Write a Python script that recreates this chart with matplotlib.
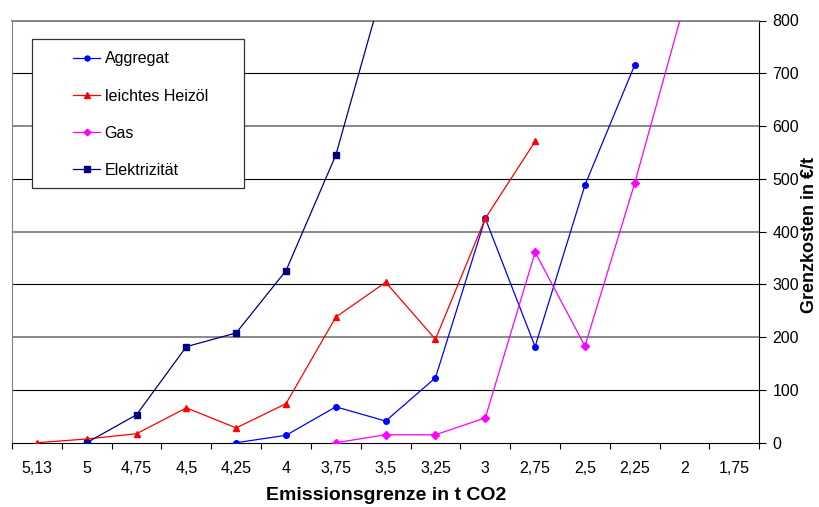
import numpy as np
import matplotlib
matplotlib.use("Agg")
import matplotlib.pyplot as plt
from matplotlib.patches import Rectangle

plt.rcParams['font.family'] = ['Liberation Sans', 'DejaVu Sans']

categories = ["5,13", "5", "4,75", "4,5", "4,25", "4", "3,75", "3,5",
              "3,25", "3", "2,75", "2,5", "2,25", "2", "1,75"]
nan = np.nan
aggregat = [nan, nan, nan, nan, 0, 14, 68, 41, 123, 425, 182, 488, 716, nan, nan]
heizoel = [0, 7, 17, 66, 28, 74, 238, 304, 196, 425, 571, nan, nan, nan, nan]
gas = [nan, nan, nan, nan, nan, nan, 0, 15, 15, 47, 361, 183, 492, 832, nan]
elektrizitaet = [nan, 0, 53, 182, 208, 326, 545, 880, nan, nan, nan, nan, nan, nan, nan]
y_ticks = [0, 100, 200, 300, 400, 500, 600, 700, 800]

W, H = 819, 507
fig = plt.figure(figsize=(W / 100, H / 100), dpi=100)
ax = fig.add_axes([12 / W, 1 - 442.7 / H, (759.3 - 12) / W, (442.7 - 20.5) / H])

x = np.arange(len(categories))

# horizontal gridlines, alternating grey / black
for v in y_ticks[1:]:
    if v % 200 == 0:
        ax.axhline(v, color="#808080", lw=1.3, zorder=1)
    else:
        ax.axhline(v, color="black", lw=0.8, zorder=1)

series = [
    ("Aggregat", aggregat, "#0000FF", "o", 4.0),
    ("leichtes Heizöl", heizoel, "#FF0000", "^", 5.0),
    ("Gas", gas, "#FF00FF", "D", 3.8),
    ("Elektrizität", elektrizitaet, "#000080", "s", 5.0),
]
handles = []
for name, vals, col, mk, ms in series:
    ln, = ax.plot(x, vals, color=col, lw=0.9, marker=mk, markersize=ms,
                  markeredgecolor=col, markerfacecolor=col, label=name, zorder=3)
    handles.append(ln)

ax.set_xlim(-0.5, len(categories) - 0.5)
ax.set_ylim(0, 800)

ax.set_xticks(x)
ax.set_xticklabels(categories, fontsize=11.5)
ax.set_xticks(np.arange(len(categories) + 1) - 0.5, minor=True)
ax.tick_params(axis="x", which="major", length=0, pad=13)
ax.tick_params(axis="x", which="minor", length=4, width=0.8, direction="out", color="black")

ax.yaxis.tick_right()
ax.set_yticks(y_ticks)
ax.set_yticklabels([str(v) for v in y_ticks], fontsize=11.5)
ax.tick_params(axis="y", length=5, width=0.8, direction="out", pad=4.5, color="black")

ax.spines["left"].set_color("#808080")
ax.spines["top"].set_color("#808080")
ax.spines["top"].set_linewidth(1.3)
ax.spines["right"].set_color("black")
ax.spines["bottom"].set_color("black")
for s in ax.spines.values():
    s.set_zorder(2)

fig.text(386 / W, 1 - 495 / H, "Emissionsgrenze in t CO2", fontsize=14,
         fontweight="bold", ha="center", va="center")
fig.text(810 / W, 1 - 235 / H, "Grenzkosten in €/t", fontsize=13,
         fontweight="bold", ha="center", va="center", rotation=90)

# legend frame
ax.add_patch(Rectangle((31.7 / W, 1 - 188.3 / H), (243.7 - 31.7) / W, (188.3 - 39) / H,
                       transform=fig.transFigure, facecolor="white", edgecolor="#333333",
                       lw=0.9, zorder=4, clip_on=False))
leg = ax.legend(handles=handles, loc="upper left",
                bbox_to_anchor=(73 / W, 1 - 51.5 / H), bbox_transform=fig.transFigure,
                frameon=False, fontsize=11.5, borderpad=0, borderaxespad=0,
                handlelength=1.7, handletextpad=0.28, labelspacing=1.385,
                markerscale=0.9)
leg.set_zorder(5)

fig.savefig("out.png", dpi=100)
